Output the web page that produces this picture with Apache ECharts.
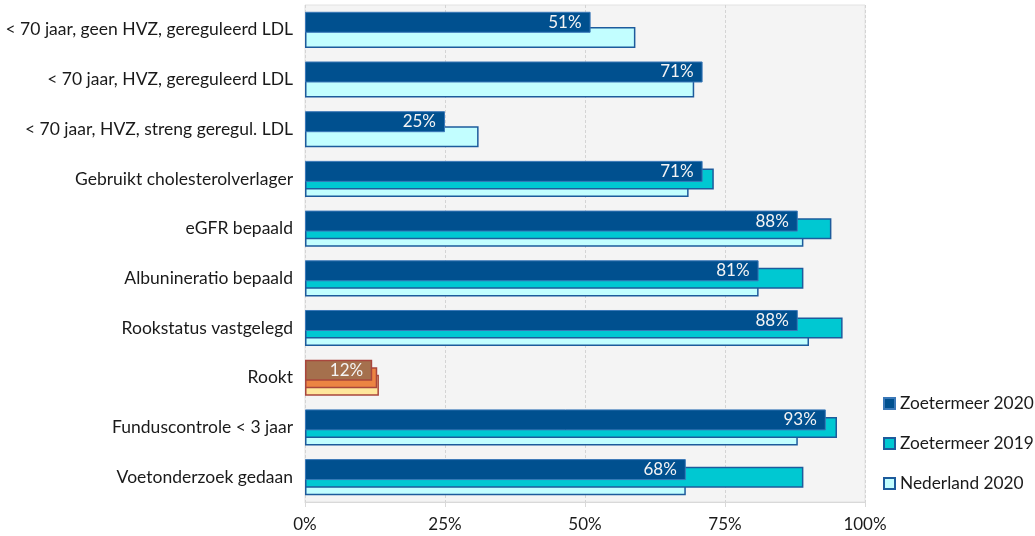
<!DOCTYPE html>
<html>
<head>
<meta charset="utf-8">
<script src="https://cdn.jsdelivr.net/npm/echarts@6/dist/echarts.min.js"></script>
<style>
  html, body { margin: 0; padding: 0; background: #ffffff; }
  #chart { width: 1035px; height: 536px; }
</style>
</head>
<body>
<div id="chart"></div>
<script>
// Indicators, top to bottom
const categories = [
  '< 70 jaar, geen HVZ, gereguleerd LDL',
  '< 70 jaar, HVZ, gereguleerd LDL',
  '< 70 jaar, HVZ, streng geregul. LDL',
  'Gebruikt cholesterolverlager',
  'eGFR bepaald',
  'Albunineratio bepaald',
  'Rookstatus vastgelegd',
  'Rookt',
  'Funduscontrole < 3 jaar',
  'Voetonderzoek gedaan'
];

// Percentages per series (null = not available)
const zoetermeer2020 = [51, 71, 25, 71, 88, 81, 88, 12, 93, 68];
const zoetermeer2019 = [null, null, null, 73, 94, 89, 96, 12.9, 95, 89];
const nederland2020 = [59, 69.5, 31, 68.5, 89, 81, 90, 13.2, 88, 68];

const seriesNames = ['Zoetermeer 2020', 'Zoetermeer 2019', 'Nederland 2020'];
const xTicks = [0, 25, 50, 75, 100];

// The smoking row is an "undesirable" indicator and gets warm colours
const highlightCategory = 'Rookt';

const palette = {
  z2020: { color: '#00508f', borderColor: '#3a78b8' },
  z2019: { color: '#00c8d2', borderColor: '#1d5b9c' },
  nl2020: { color: '#c2feff', borderColor: '#1d5b9c' }
};
const warmPalette = {
  z2020: { color: '#a5704d', borderColor: '#a9463d' },
  z2019: { color: '#ec8443', borderColor: '#a9463d' },
  nl2020: { color: '#ffe69b', borderColor: '#a9463d' }
};

function buildData(values, key) {
  return values.map((v, i) => {
    if (v === null) return '-';
    if (categories[i] === highlightCategory) {
      return { value: v, itemStyle: Object.assign({ borderWidth: 1.5 }, warmPalette[key]) };
    }
    return v;
  });
}

const FONT = 'Lato';
const TEXT = '#1a1a1a';
const BAR_W = 21;

const chart = echarts.init(document.getElementById('chart'), null, { renderer: 'canvas' });

chart.setOption({
  animation: false,
  textStyle: { fontFamily: FONT },
  grid: {
    left: 305, right: 170, top: 5, bottom: 34,
    show: true,
    backgroundColor: '#f4f4f4',
    borderColor: '#e2e2e2',
    borderWidth: 1
  },
  legend: {
    data: seriesNames,
    orient: 'vertical',
    left: 883,
    top: 395,
    padding: 0,
    itemWidth: 11,
    itemHeight: 11,
    itemGap: 23,
    icon: 'rect',
    textStyle: { fontFamily: FONT, fontSize: 17.3, color: TEXT }
  },
  xAxis: {
    type: 'value',
    min: xTicks[0],
    max: xTicks[xTicks.length - 1],
    interval: 25,
    axisLine: { show: true, lineStyle: { color: '#d9d9d9', width: 1 } },
    axisTick: { show: true, length: 5, lineStyle: { color: '#d9d9d9' } },
    axisLabel: {
      formatter: '{value}%',
      fontFamily: FONT,
      fontSize: 17,
      color: TEXT,
      margin: 14
    },
    splitLine: { show: true, lineStyle: { color: '#d4d4d4', type: [3, 2], width: 1 } }
  },
  yAxis: {
    type: 'category',
    data: categories,
    inverse: true,
    axisLine: { show: false },
    axisTick: { show: false },
    axisLabel: { fontFamily: FONT, fontSize: 17.5, color: TEXT, margin: 12 },
    splitLine: { show: false }
  },
  series: [
    {
      name: seriesNames[0],
      type: 'bar',
      z: 5,
      barWidth: BAR_W,
      barGap: '-64%',
      data: buildData(zoetermeer2020, 'z2020'),
      itemStyle: Object.assign({ borderWidth: 1 }, palette.z2020),
      label: {
        show: true,
        position: 'insideRight',
        distance: 9,
        formatter: p => Math.round(p.value) + '%',
        fontFamily: FONT,
        fontSize: 17,
        color: '#f4f4f4'
      }
    },
    {
      name: seriesNames[1],
      type: 'bar',
      z: 4,
      barWidth: BAR_W,
      barGap: '-64%',
      data: buildData(zoetermeer2019, 'z2019'),
      itemStyle: Object.assign({ borderWidth: 1.5 }, palette.z2019)
    },
    {
      name: seriesNames[2],
      type: 'bar',
      z: 3,
      barWidth: BAR_W,
      barGap: '-64%',
      data: buildData(nederland2020, 'nl2020'),
      itemStyle: Object.assign({ borderWidth: 1.5 }, palette.nl2020)
    }
  ]
});
</script>
</body>
</html>
